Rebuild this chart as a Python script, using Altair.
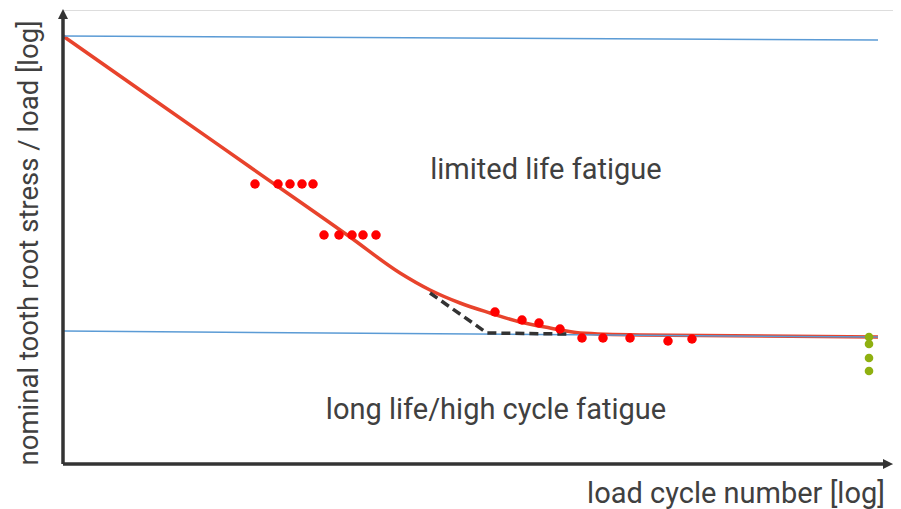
import altair as alt
import pandas as pd

# Values in chart units (x: log cycles, y: log stress)
curve_x = [0, 87, 187, 287, 337, 367, 397, 427, 457, 487, 517, 577, 815]
curve_y = [428, 367, 297, 227, 191, 174, 161, 151, 142, 136, 131, 129, 127]

blue_top_x = [0, 815]
blue_top_y = [428, 424]
blue_bot_x = [0, 815]
blue_bot_y = [133, 127]

dash_x = [367, 424, 504]
dash_y = [171, 131, 130]

red_pts_x = [192, 215, 227, 239, 250, 261, 276, 289, 300, 313,
             432, 459, 476, 497, 519, 540, 567, 605, 629]
red_pts_y = [280, 280, 280, 280, 280, 229, 229, 229, 229, 229,
             152, 144, 141, 135, 126, 126, 126, 123, 125]

green_pts_x = [806, 806, 806, 806]
green_pts_y = [127, 120, 106, 93]

labels = ["limited life fatigue", "long life/high cycle fatigue"]
labels_x = [483, 433]
labels_y = [294, 54]

FONT = "Roboto"
W, H = 830, 454
xs = alt.Scale(domain=[0, W], zero=False, nice=False)
ys = alt.Scale(domain=[0, H], zero=False, nice=False)


def line_layer(xv, yv, **kw):
    df = pd.DataFrame({"x": xv, "y": yv, "o": list(range(len(xv)))})
    return alt.Chart(df).mark_line(clip=False, **kw).encode(
        x=alt.X("x:Q", scale=xs, axis=None),
        y=alt.Y("y:Q", scale=ys, axis=None),
        order="o:Q",
    )


red_curve = line_layer(curve_x, curve_y, color="#e8432c", strokeWidth=3.5, interpolate="monotone")
blue_top = line_layer(blue_top_x, blue_top_y, color="#5b9bd5", strokeWidth=1.5)
blue_bot = line_layer(blue_bot_x, blue_bot_y, color="#5b9bd5", strokeWidth=1.5)
dashed = line_layer(dash_x, dash_y, color="#333333", strokeWidth=3.5, strokeDash=[9, 5])

axis_x = line_layer([0, 822], [0, 0], color="#333333", strokeWidth=3.5)
axis_y = line_layer([0, 0], [0, 446], color="#333333", strokeWidth=3.5)

arrows_df = pd.DataFrame({"x": [825, 0], "y": [0, 450],
                          "s": ["M-1,-1L1,0L-1,1Z", "M-1,1L0,-1L1,1Z"]})
arrows = alt.Chart(arrows_df).mark_point(filled=True, color="#333333", opacity=1, size=100, clip=False).encode(
    x=alt.X("x:Q", scale=xs, axis=None),
    y=alt.Y("y:Q", scale=ys, axis=None),
    shape=alt.Shape("s:N", scale=None),
)

red_pts = alt.Chart(pd.DataFrame({"x": red_pts_x, "y": red_pts_y})).mark_circle(
    color="#ff0000", opacity=1, size=90, clip=False).encode(
    x=alt.X("x:Q", scale=xs, axis=None), y=alt.Y("y:Q", scale=ys, axis=None))

green_pts = alt.Chart(pd.DataFrame({"x": green_pts_x, "y": green_pts_y})).mark_circle(
    color="#8fb010", opacity=1, size=75, clip=False).encode(
    x=alt.X("x:Q", scale=xs, axis=None), y=alt.Y("y:Q", scale=ys, axis=None))

region_text = alt.Chart(pd.DataFrame({"x": labels_x, "y": labels_y, "t": labels})).mark_text(
    font=FONT, fontSize=29, color="#404040", align="center", baseline="middle").encode(
    x=alt.X("x:Q", scale=xs, axis=None), y=alt.Y("y:Q", scale=ys, axis=None), text="t:N")

ytitle = alt.Chart(pd.DataFrame({"x": [-33], "y": [221], "t": ["nominal tooth root stress / load [log]"]})).mark_text(
    font=FONT, fontSize=27.5, color="#404040", angle=270, align="center", baseline="middle").encode(
    x=alt.X("x:Q", scale=xs, axis=None), y=alt.Y("y:Q", scale=ys, axis=None), text="t:N")

xtitle = alt.Chart(pd.DataFrame({"x": [673], "y": [-39], "t": ["load cycle number [log]"]})).mark_text(
    font=FONT, fontSize=29, color="#404040", align="center", baseline="alphabetic").encode(
    x=alt.X("x:Q", scale=xs, axis=None), y=alt.Y("y:Q", scale=ys, axis=None), text="t:N")

chart = alt.layer(
    red_curve, blue_top, blue_bot, dashed, axis_x, axis_y, arrows,
    red_pts, green_pts, region_text, ytitle, xtitle
).properties(
    width=W, height=H,
    autosize=alt.AutoSizeParams(type="none"),
    padding={"left": 55, "top": 2, "right": 0, "bottom": 45},
).configure_view(stroke=None).configure(background="white")

chart.save("out.html", embed_options={"renderer": "svg", "actions": False})
